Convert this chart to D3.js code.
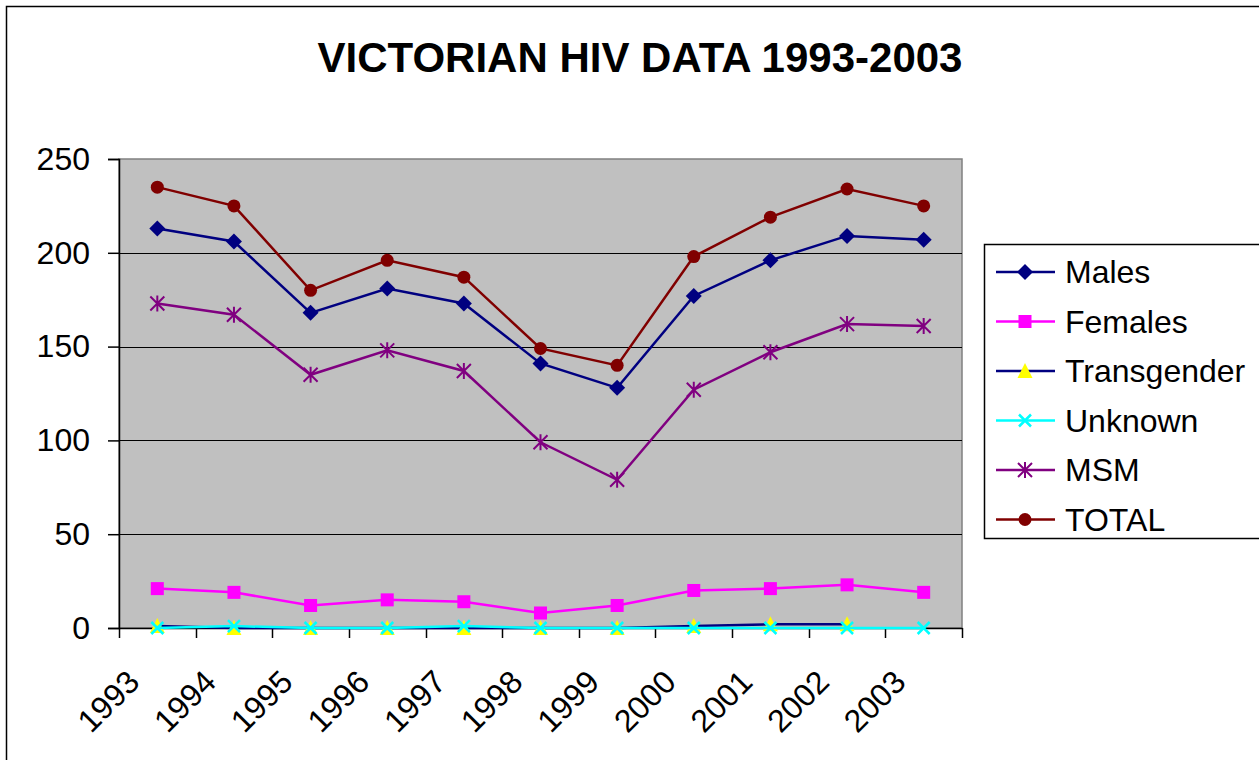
<!DOCTYPE html>
<html>
<head>
<meta charset="utf-8">
<script src="https://cdn.jsdelivr.net/npm/d3@7"></script>
<style>
  body { margin: 0; background: #fff; }
  text { font-family: "Liberation Sans", Arial, sans-serif; }
</style>
</head>
<body>
<script>
// data
var years = ["1993", "1994", "1995", "1996", "1997", "1998", "1999", "2000", "2001", "2002", "2003"];
var males = [213, 206, 168, 181, 173, 141, 128, 177, 196, 209, 207];
var females = [21, 19, 12, 15, 14, 8, 12, 20, 21, 23, 19];
var transgender = [1, 0, 0, 0, 0, 0, 0, 1, 2, 2, null];
var unknown = [0, 1, 0, 0, 1, 0, 0, 0, 0, 0, 0];
var msm = [173, 167, 135, 148, 137, 99, 79, 127, 147, 162, 161];
var total = [235, 225, 180, 196, 187, 149, 140, 198, 219, 234, 225];
var yTicks = [0, 50, 100, 150, 200, 250];

var series = [
  { name: "Males", values: males, line: "#000080", fill: "#000080", marker: "diamond" },
  { name: "Females", values: females, line: "#FF00FF", fill: "#FF00FF", marker: "square" },
  { name: "Transgender", values: transgender, line: "#000080", fill: "#FFFF00", marker: "triangle" },
  { name: "Unknown", values: unknown, line: "#00FFFF", fill: "#00FFFF", marker: "x" },
  { name: "MSM", values: msm, line: "#800080", fill: "#800080", marker: "star" },
  { name: "TOTAL", values: total, line: "#800000", fill: "#800000", marker: "circle" }
];

var svg_Width = 1259;
var svg_Height = 760;
var plot = { left: 119, top: 159, right: 962, bottom: 628 };

var svg = d3.select("body")
  .append("svg")
  .attr("width", svg_Width)
  .attr("height", svg_Height);

// outer chart border (runs off the right / bottom edge)
svg.append("rect")
  .attr("x", 6.5).attr("y", 6.5)
  .attr("width", 1400).attr("height", 900)
  .attr("fill", "#fff")
  .attr("stroke", "#000")
  .attr("stroke-width", 1.5);

svg.append("text")
  .attr("x", 640)
  .attr("y", 72)
  .attr("text-anchor", "middle")
  .attr("font-size", 42)
  .attr("font-weight", "bold")
  .text("VICTORIAN HIV DATA 1993-2003");

var xScale = d3.scaleBand()
  .domain(years)
  .range([plot.left, plot.right]);

var yScale = d3.scaleLinear()
  .domain([0, 250])
  .range([plot.bottom, plot.top]);

// plot area
svg.append("rect")
  .attr("x", plot.left)
  .attr("y", plot.top)
  .attr("width", plot.right - plot.left)
  .attr("height", plot.bottom - plot.top)
  .attr("fill", "#C0C0C0")
  .attr("stroke", "#808080")
  .attr("stroke-width", 1.5);

// gridlines
svg.append("g")
  .selectAll("line")
  .data(yTicks.filter(d => d > 0 && d < 250))
  .enter()
  .append("line")
  .attr("x1", plot.left)
  .attr("x2", plot.right)
  .attr("y1", d => Math.round(yScale(d)) + 0.5)
  .attr("y2", d => Math.round(yScale(d)) + 0.5)
  .attr("stroke", "#000")
  .attr("stroke-width", 1);

// y axis
var leftAxis = d3.axisLeft(yScale)
  .tickValues(yTicks)
  .tickSize(11)
  .tickPadding(18);

var yAxis = svg.append("g")
  .attr("transform", `translate(${plot.left}, 0)`)
  .call(leftAxis);
yAxis.selectAll("text")
  .attr("font-size", 32)
  .attr("font-family", "Liberation Sans, Arial, sans-serif")
  .attr("fill", "#000");
yAxis.selectAll("line").attr("stroke", "#000").attr("stroke-width", 1.5);
yAxis.select(".domain").attr("stroke", "#000").attr("stroke-width", 1.5);

// x axis: ticks at category boundaries
var bottomAxis = d3.axisBottom(xScale)
  .tickSize(0)
  .tickFormat("");
var xAxis = svg.append("g")
  .attr("transform", `translate(0, ${plot.bottom})`)
  .call(bottomAxis);
xAxis.select(".domain").attr("stroke", "#000").attr("stroke-width", 1.5);

var boundaries = years.map(d => xScale(d)).concat([plot.right]);
svg.append("g")
  .selectAll("line")
  .data(boundaries)
  .enter()
  .append("line")
  .attr("x1", d => Math.round(d) + 0.5)
  .attr("x2", d => Math.round(d) + 0.5)
  .attr("y1", plot.bottom)
  .attr("y2", plot.bottom + 10)
  .attr("stroke", "#000")
  .attr("stroke-width", 1.5);

var cx = d => xScale(d) + xScale.bandwidth() / 2;

svg.append("g")
  .selectAll("text")
  .data(years)
  .enter()
  .append("text")
  .attr("transform", d => `translate(${cx(d) - 16}, ${plot.bottom + 56}) rotate(-45)`)
  .attr("text-anchor", "end")
  .attr("font-size", 32)
  .text(d => d);

// marker shapes
function drawMarker(g, type, color, fill) {
  if (type === "diamond") {
    g.append("path").attr("d", "M0,-8L8,0L0,8L-8,0Z").attr("fill", fill);
  } else if (type === "square") {
    g.append("rect").attr("x", -6.5).attr("y", -6.5).attr("width", 13).attr("height", 13).attr("fill", fill);
  } else if (type === "triangle") {
    g.append("path").attr("d", "M0,-8L7.5,7L-7.5,7Z").attr("fill", fill);
  } else if (type === "x") {
    g.append("path").attr("d", "M-6,-6L6,6M-6,6L6,-6").attr("stroke", fill).attr("stroke-width", 2.5).attr("fill", "none");
  } else if (type === "star") {
    g.append("path").attr("d", "M-7,-7L7,7M-7,7L7,-7M0,-8L0,8").attr("stroke", fill).attr("stroke-width", 2).attr("fill", "none");
  } else if (type === "circle") {
    g.append("circle").attr("r", 6.5).attr("fill", fill);
  }
}

var lineGen = d3.line()
  .defined(d => d.v !== null)
  .x(d => cx(d.year))
  .y(d => yScale(d.v));

series.forEach(function (s) {
  var pts = years.map((y, i) => ({ year: y, v: s.values[i] }));
  var g = svg.append("g");
  g.append("path")
    .datum(pts)
    .attr("d", lineGen)
    .attr("fill", "none")
    .attr("stroke", s.line)
    .attr("stroke-width", 2.5);
  pts.filter(d => d.v !== null).forEach(function (d) {
    var m = g.append("g").attr("transform", `translate(${cx(d.year)}, ${yScale(d.v)})`);
    drawMarker(m, s.marker, s.line, s.fill);
  });
});

// legend
var legend = svg.append("g");
legend.append("rect")
  .attr("x", 984.5).attr("y", 244.5)
  .attr("width", 400).attr("height", 294)
  .attr("fill", "#fff")
  .attr("stroke", "#000")
  .attr("stroke-width", 1.5);

series.forEach(function (s, i) {
  var y = 272 + i * 49.5;
  legend.append("line")
    .attr("x1", 996).attr("x2", 1055)
    .attr("y1", y).attr("y2", y)
    .attr("stroke", s.line)
    .attr("stroke-width", 2.5);
  var m = legend.append("g").attr("transform", `translate(1025, ${y})`);
  drawMarker(m, s.marker, s.line, s.fill);
  legend.append("text")
    .attr("x", 1065)
    .attr("y", y + 11)
    .attr("font-size", 32)
    .text(s.name);
});
</script>
</body>
</html>
